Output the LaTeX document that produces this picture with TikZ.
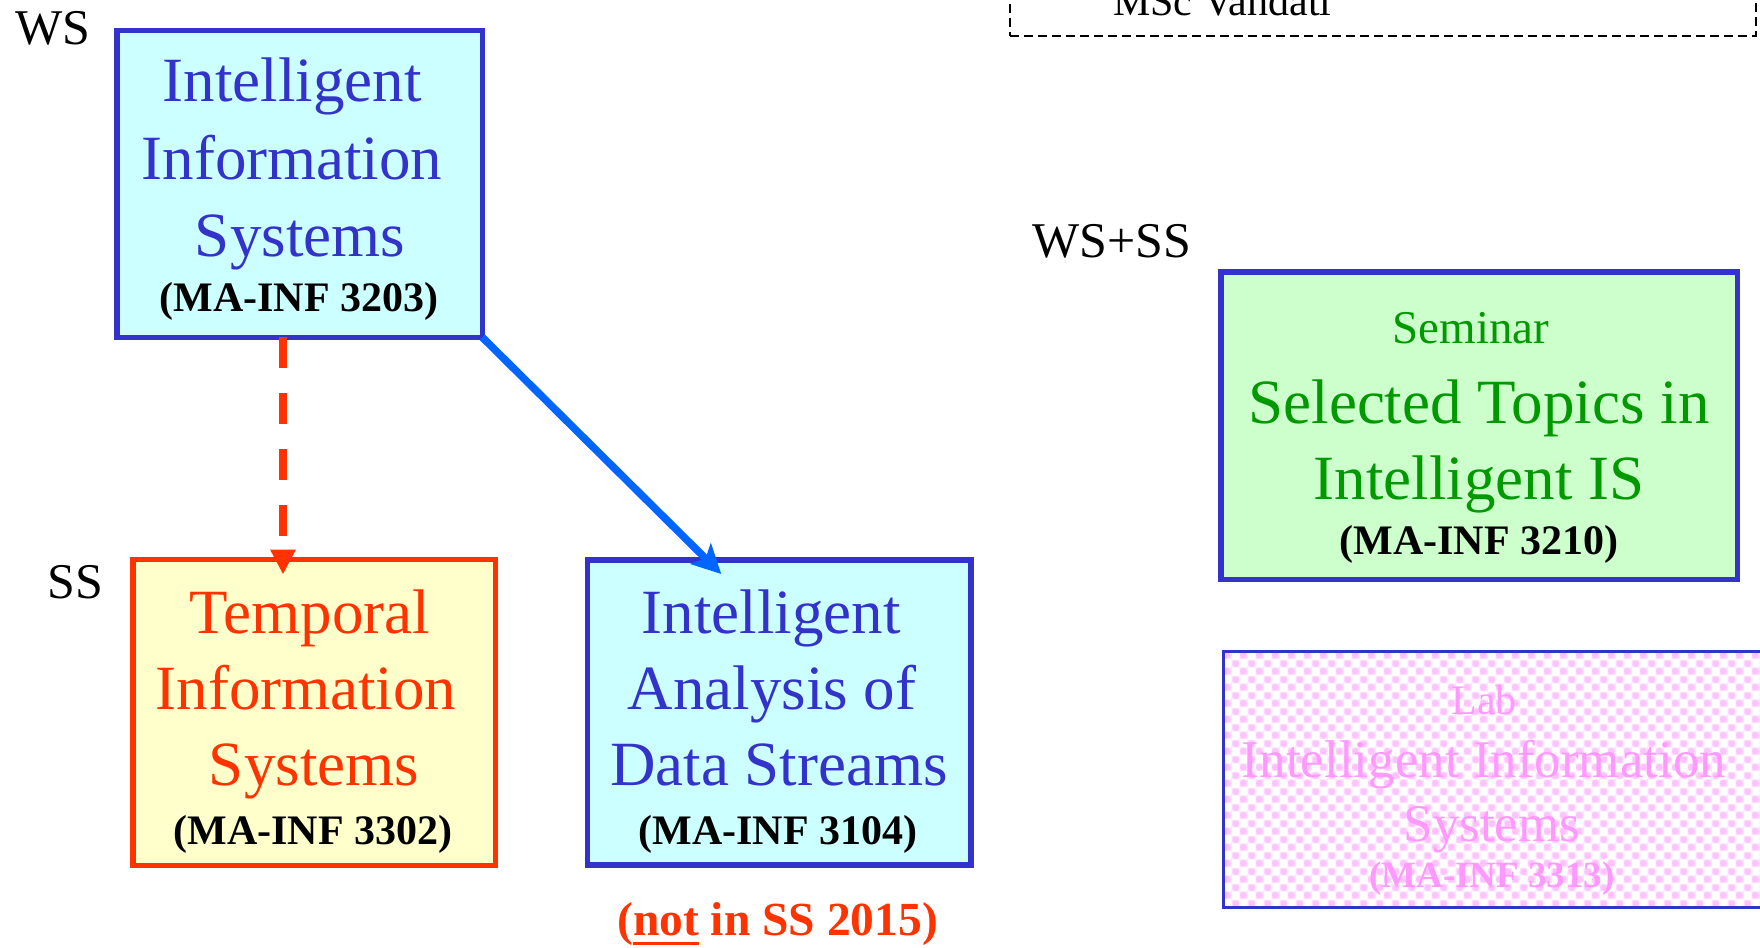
\documentclass[tikz,border=0pt]{standalone}
\usepackage{fontspec}
\setmainfont{Liberation Serif}
\usetikzlibrary{arrows.meta,patterns}
\definecolor{boxblue}{HTML}{3333CC}
\definecolor{cyanfill}{HTML}{CCFFFF}
\definecolor{redo}{HTML}{FF3300}
\definecolor{yelfill}{HTML}{FFFFCC}
\definecolor{grnfill}{HTML}{CCFFCC}
\definecolor{grntext}{HTML}{009900}
\definecolor{pinktext}{HTML}{FF99FF}
\definecolor{arrblue}{HTML}{0066FF}
\definecolor{labbg}{HTML}{FFE2FF}
\definecolor{labdot}{HTML}{FFC2FF}
\pgfdeclarepatterninherentlycolored{pinkcheck}
{\pgfpointorigin}{\pgfpoint{16pt}{16pt}}{\pgfpoint{16pt}{16pt}}
{
 \pgfsetfillcolor{labbg}
 \pgfpathrectangle{\pgfpointorigin}{\pgfpoint{16pt}{16pt}}
 \pgfusepath{fill}
 \pgfsetfillcolor{white}
 \pgfpathrectangle{\pgfpointorigin}{\pgfpoint{8pt}{8pt}}
 \pgfpathrectangle{\pgfpoint{8pt}{8pt}}{\pgfpoint{8pt}{8pt}}
 \pgfusepath{fill}
 \pgfsetfillcolor{labdot}
 \pgfpathcircle{\pgfpoint{12pt}{4pt}}{3.6pt}
 \pgfpathcircle{\pgfpoint{4pt}{12pt}}{3.6pt}
 \pgfusepath{fill}
}
\newcommand\myul[1]{\setbox0\hbox{#1}\rlap{\vrule width\wd0 height -7pt depth 10pt}\box0\relax}
\tikzset{
 box/.style={draw, line width=5.5pt, inner sep=0pt, outer sep=0pt},
 big/.style={font=\fontsize{63}{63}\selectfont, inner sep=0pt, anchor=base},
 code/.style={font=\fontsize{42}{42}\selectfont\bfseries, inner sep=0pt, anchor=base},
 lbl/.style={font=\fontsize{50}{50}\selectfont, inner sep=0pt, anchor=base west},
 labtext/.style={text=pinktext, inner sep=0pt, anchor=base},
 redarrow/.style={draw=redo, line width=7.5pt, dash pattern=on 31pt off 25pt, -{Triangle[width=24pt,length=25pt]}},
 bluearrow/.style={draw=arrblue, line width=7.5pt, -{Stealth[width=29pt,length=29pt,inset=7pt]}},
}
\begin{document}
\begin{tikzpicture}[x=1pt,y=-1pt]
\useasboundingbox (0,0) rectangle (1760,947);
\clip (0,0) rectangle (1760,947);
\fill[white] (0,0) rectangle (1760,947);

% top dashed box (cut off)
\node[draw=black, line width=2pt, dash pattern=on 9pt off 5pt, minimum width=746pt, minimum height=96pt, inner sep=0pt, outer sep=0pt] (msc) at (1383,-12) {};
\node[font=\fontsize{42}{42}\selectfont, inner sep=0pt, anchor=base west] (msct) at (1113,16) {MSc Vahdati};

% semester labels
\node[lbl] (ws) at (15,45) {WS};
\node[lbl] (ss) at (47,598) {SS};
\node[lbl] (wsss) at (1032,257) {WS+SS};

% box A
\node[box, draw=boxblue, fill=cyanfill, minimum width=365.5pt, minimum height=306.5pt] (A) at (299.5,184) {};
\node[big, text=boxblue] (a1) at (292,102) {Intelligent};
\node[big, text=boxblue] (a2) at (292,179) {Information};
\node[big, text=boxblue] (a3) at (300,256) {Systems};
\node[code] (a4) at (299,311) {(MA-INF 3203)};

% box B
\node[box, draw=redo, fill=yelfill, minimum width=362.5pt, minimum height=306pt] (B) at (314,712.5) {};
\node[big, text=redo] (b1) at (310,633) {Temporal};
\node[big, text=redo] (b2) at (306,709) {Information};
\node[big, text=redo] (b3) at (314,785) {Systems};
\node[code] (b4) at (313,844) {(MA-INF 3302)};

% box C
\node[box, draw=boxblue, fill=cyanfill, minimum width=383.5pt, minimum height=305pt] (C) at (779,712.5) {};
\node[big, text=boxblue] (c1) at (771,633) {Intelligent};
\node[big, text=boxblue] (c2) at (772,709) {Analysis of};
\node[big, text=boxblue] (c3) at (779,785) {Data Streams};
\node[code] (c4) at (778,844) {(MA-INF 3104)};

% not in SS 2015
\node[font=\fontsize{47.5}{47.5}\selectfont\bfseries, text=redo, inner sep=0pt, anchor=base west] (note) at (617,935) {(\myul{not} in SS 2015)};

% box D
\node[box, draw=boxblue, fill=grnfill, minimum width=516.5pt, minimum height=307.5pt] (D) at (1479,425.5) {};
\node[font=\fontsize{47}{47}\selectfont, text=grntext, inner sep=0pt, anchor=base] (d0) at (1471,343) {Seminar};
\node[big, text=grntext] (d1) at (1479,423) {Selected Topics in};
\node[big, text=grntext] (d2) at (1479,499) {Intelligent IS};
\node[code] (d3) at (1479,554) {(MA-INF 3210)};

% box E (lab)
\node[draw=boxblue, line width=3pt, pattern=pinkcheck, inner sep=0pt, outer sep=0pt, minimum width=576.5pt, minimum height=256pt] (E) at (1511.75,779.5) {};
\node[labtext, font=\fontsize{42}{42}\selectfont] (e0) at (1484,714) {Lab};
\node[labtext, font=\fontsize{53}{53}\selectfont] (e1) at (1484,777) {Intelligent Information};
\node[labtext, font=\fontsize{53}{53}\selectfont] (e2) at (1492,841) {Systems};
\node[labtext, font=\fontsize{37}{37}\selectfont\bfseries] (e3) at (1492,887) {(MA-INF 3313)};

% connectors
\draw[redarrow] ([xshift=-16.5pt]A.south) -- ([xshift=-31pt,yshift=-15pt]B.north);
\draw[bluearrow] (A.south east) -- ([xshift=134pt,yshift=-14pt]C.north west);
\end{tikzpicture}
\end{document}
